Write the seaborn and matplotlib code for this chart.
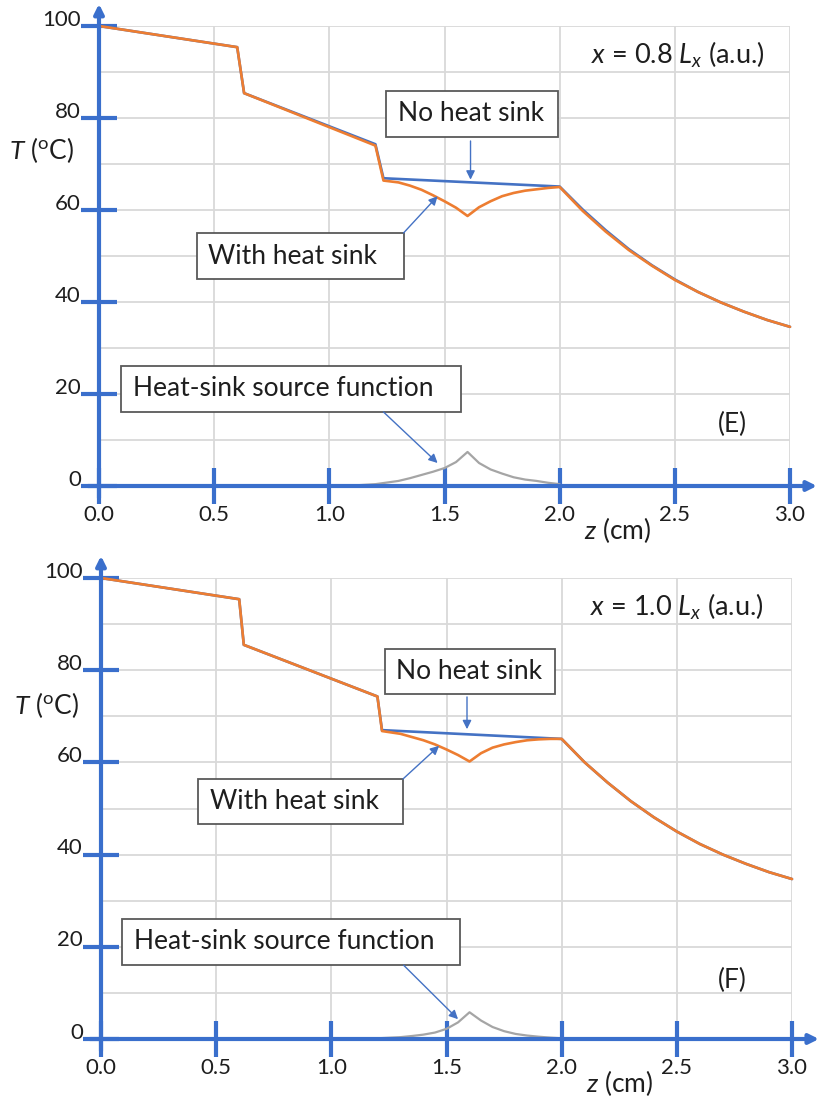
import numpy as np
import matplotlib
matplotlib.use("Agg")
import matplotlib.pyplot as plt
import matplotlib.transforms as mtransforms
from matplotlib.patches import Rectangle
import seaborn as sns

# ---------------- data ----------------
# Panel E : x = 0.8 Lx
zE_nosink = [0.0, 0.6, 0.63, 1.2, 1.235, 2.0, 2.1, 2.2, 2.3, 2.4, 2.5, 2.6, 2.7, 2.8, 2.9, 3.0]
TE_nosink = [100.0, 95.4, 85.4, 74.3, 66.9, 65.1, 60.1, 55.6, 51.5, 48.0, 44.9, 42.2, 39.9, 37.9, 36.1, 34.6]

zE_sink = [0.0, 0.6, 0.63, 1.2, 1.235, 1.3, 1.35, 1.4, 1.45, 1.5, 1.55, 1.6, 1.65, 1.7, 1.75,
           1.8, 1.85, 1.9, 1.95, 2.0, 2.1, 2.2, 2.3, 2.4, 2.5, 2.6, 2.7, 2.8, 2.9, 3.0]
TE_sink = [100.0, 95.4, 85.4, 74.0, 66.4, 66.0, 65.3, 64.4, 63.2, 61.9, 60.5, 58.7, 60.6, 61.9, 63.0,
           63.7, 64.2, 64.5, 64.8, 65.0, 59.8, 55.3, 51.3, 47.9, 44.8, 42.2, 39.9, 37.9, 36.1, 34.6]

zE_src = [1.0, 1.1, 1.2, 1.3, 1.35, 1.4, 1.45, 1.5, 1.55, 1.6, 1.65, 1.7, 1.75, 1.8, 1.85, 1.9, 1.95, 2.0]
SE_src = [0.0, 0.1, 0.4, 1.1, 1.7, 2.4, 3.1, 3.9, 5.2, 7.4, 5.0, 3.6, 2.7, 1.9, 1.4, 1.1, 0.7, 0.4]

# Panel F : x = 1.0 Lx
zF_nosink = [0.0, 0.6, 0.62, 1.2, 1.22, 2.0, 2.1, 2.2, 2.3, 2.4, 2.5, 2.6, 2.7, 2.8, 2.9, 3.0]
TF_nosink = [100.0, 95.4, 85.5, 74.3, 67.0, 65.1, 60.0, 55.6, 51.6, 48.1, 45.0, 42.3, 40.0, 38.0, 36.2, 34.7]

zF_sink = [0.0, 0.6, 0.62, 1.2, 1.22, 1.3, 1.35, 1.4, 1.45, 1.5, 1.55, 1.6, 1.65, 1.7, 1.75,
           1.8, 1.85, 1.9, 1.95, 2.0, 2.1, 2.2, 2.3, 2.4, 2.5, 2.6, 2.7, 2.8, 2.9, 3.0]
TF_sink = [100.0, 95.4, 85.5, 74.3, 66.8, 66.2, 65.5, 64.8, 63.9, 62.8, 61.6, 60.2, 62.0, 63.2, 63.9,
           64.4, 64.8, 65.0, 65.1, 65.1, 60.0, 55.6, 51.6, 48.1, 45.0, 42.3, 40.0, 38.0, 36.2, 34.7]

zF_src = [1.0, 1.1, 1.2, 1.3, 1.35, 1.4, 1.45, 1.5, 1.55, 1.6, 1.65, 1.7, 1.75, 1.8, 1.85, 1.9, 1.95, 2.0]
SF_src = [0.0, 0.05, 0.15, 0.4, 0.65, 0.95, 1.4, 2.2, 3.6, 5.8, 4.0, 2.6, 1.7, 1.1, 0.75, 0.5, 0.3, 0.15]

x_ticks = [0.0, 0.5, 1.0, 1.5, 2.0, 2.5, 3.0]
x_ticklabels = ["0.0", "0.5", "1.0", "1.5", "2.0", "2.5", "3.0"]
y_ticks = [0, 20, 40, 60, 80, 100]
y_ticklabels = ["0", "20", "40", "60", "80", "100"]

panel_titles = [r"$x$ = 0.8 $L_x$ (a.u.)", r"$x$ = 1.0 $L_x$ (a.u.)"]
panel_letters = ["(E)", "(F)"]

# ---------------- style ----------------
sns.set_theme(style="white")
plt.rcParams["font.family"] = ["Lato", "DejaVu Sans"]
plt.rcParams["mathtext.fontset"] = "custom"
plt.rcParams["mathtext.rm"] = "Lato"
plt.rcParams["mathtext.it"] = "Lato:italic"
plt.rcParams["mathtext.bf"] = "Lato:bold"

AX_BLUE = "#3A6FCC"
BLUE = "#4472C4"
ORANGE = "#ED7D31"
GRAY = "#A5A5A5"
GRID = "#D9D9D9"
BOX_EC = "#595959"
TXT = "#1E1E1E"

fig = plt.figure(figsize=(8.17, 10.99), dpi=100)
W, H = 817.0, 1099.0


def make_axes(x0, x1, y_top, y_bot):
    return fig.add_axes([x0 / W, 1 - y_bot / H, (x1 - x0) / W, (y_bot - y_top) / H])


axE = make_axes(99, 790, 26, 486)
axF = make_axes(101, 792, 578, 1039)

panels = [
    dict(ax=axE, zn=zE_nosink, Tn=TE_nosink, zs=zE_sink, Ts=TE_sink, zq=zE_src, Sq=SE_src,
         title_xy=(2.515, 93.7), letter_xy=(2.752, 13.3), ylab_xy=(-0.25, 73.0), xlab_xy=(2.252, -9.6),
         box_no=(1.248, 75.9, 1.991, 85.9), txt_no=1.296,
         arr_no=((1.613, 75.0), (1.613, 66.6)),
         box_with=(0.426, 45.0, 1.322, 55.0), txt_with=0.474,
         arr_with=((1.322, 55.0), (1.47, 63.0)),
         box_src=(0.096, 16.1, 1.570, 26.1), txt_src=0.148,
         arr_src=((1.235, 16.1), (1.47, 5.0))),
    dict(ax=axF, zn=zF_nosink, Tn=TF_nosink, zs=zF_sink, Ts=TF_sink, zq=zF_src, Sq=SF_src,
         title_xy=(2.501, 93.7), letter_xy=(2.739, 12.8), ylab_xy=(-0.235, 72.4), xlab_xy=(2.252, -9.6),
         box_no=(1.233, 74.8, 1.971, 84.6), txt_no=1.281,
         arr_no=((1.589, 74.2), (1.589, 67.2)),
         box_with=(0.421, 46.6, 1.311, 56.4), txt_with=0.473,
         arr_with=((1.311, 56.4), (1.468, 63.6)),
         box_src=(0.093, 16.1, 1.559, 26.0), txt_src=0.143,
         arr_src=((1.314, 16.0), (1.55, 4.3))),
]

ANN_FS = 19
TITLE_FS = 19.5
TICK_FS = 16

for i, p in enumerate(panels):
    ax = p["ax"]
    sns.lineplot(x=p["zq"], y=p["Sq"], ax=ax, color=GRAY, lw=1.6, sort=False, estimator=None, legend=False)
    sns.lineplot(x=p["zn"], y=p["Tn"], ax=ax, color=BLUE, lw=1.9, sort=False, estimator=None, legend=False)
    sns.lineplot(x=p["zs"], y=p["Ts"], ax=ax, color=ORANGE, lw=1.9, sort=False, estimator=None, legend=False)
    for ln in ax.get_lines():
        ln.set_clip_on(False)

    ax.set_xlim(0, 3)
    ax.set_ylim(0, 100)
    ax.set_xticks(x_ticks)
    ax.set_xticklabels(x_ticklabels)
    ax.set_yticks(y_ticks)
    ax.set_yticklabels(y_ticklabels)
    ax.set_yticks(np.arange(0, 101, 10), minor=True)
    ax.set_xlabel("")
    ax.set_ylabel("")
    ax.set_axisbelow(True)
    ax.grid(which="both", color=GRID, lw=1.3)
    ax.tick_params(which="minor", length=0, bottom=False, left=False)
    ax.tick_params(which="major", bottom=True, left=True, top=False, right=False,
                   direction="inout", length=26, width=3, color=AX_BLUE,
                   labelsize=TICK_FS, labelcolor=TXT, pad=0)
    ax.tick_params(axis="x", pad=1)
    for s in ax.spines.values():
        s.set_visible(False)
    off = mtransforms.ScaledTranslation(0, 6 / 72, fig.dpi_scale_trans)
    for lab in ax.get_yticklabels():
        lab.set_transform(lab.get_transform() + off)

    # axis lines with arrows
    ax.annotate("", xy=(0, 1.048), xytext=(0, -0.026), xycoords="axes fraction",
                arrowprops=dict(arrowstyle="-|>", color=AX_BLUE, lw=3, mutation_scale=14,
                                shrinkA=0, shrinkB=0), annotation_clip=False)
    ax.annotate("", xy=(1.039, 0), xytext=(-0.016, 0), xycoords="axes fraction",
                arrowprops=dict(arrowstyle="-|>", color=AX_BLUE, lw=3, mutation_scale=14,
                                shrinkA=0, shrinkB=0), annotation_clip=False)

    # texts
    ax.text(*p["title_xy"], panel_titles[i], fontsize=TITLE_FS, ha="center", va="center", color=TXT)
    ax.text(*p["letter_xy"], panel_letters[i], fontsize=ANN_FS, ha="center", va="center", color=TXT)
    ax.text(*p["ylab_xy"], r"$T$ ($^{\mathrm{o}}$C)", fontsize=ANN_FS, ha="center", va="center",
            color=TXT, clip_on=False)
    ax.text(*p["xlab_xy"], r"$z$ (cm)", fontsize=ANN_FS, ha="center", va="center",
            color=TXT, clip_on=False)

    for key, tkey, label, akey in [("box_no", "txt_no", "No heat sink", "arr_no"),
                                   ("box_with", "txt_with", "With heat sink", "arr_with"),
                                   ("box_src", "txt_src", "Heat-sink source function", "arr_src")]:
        x0, y0, x1, y1 = p[key]
        ax.add_patch(Rectangle((x0, y0), x1 - x0, y1 - y0, fc="white", ec=BOX_EC, lw=1.3, zorder=5))
        ax.text(p[tkey], (y0 + y1) / 2, label, fontsize=ANN_FS, ha="left", va="center",
                color=TXT, zorder=6)
        (sx, sy), (ex, ey) = p[akey]
        ax.annotate("", xy=(ex, ey), xytext=(sx, sy), xycoords="data",
                    arrowprops=dict(arrowstyle="-|>", color=BLUE, lw=1.0, mutation_scale=13,
                                    shrinkA=0, shrinkB=0), zorder=6)

fig.savefig("out.png", dpi=100)
